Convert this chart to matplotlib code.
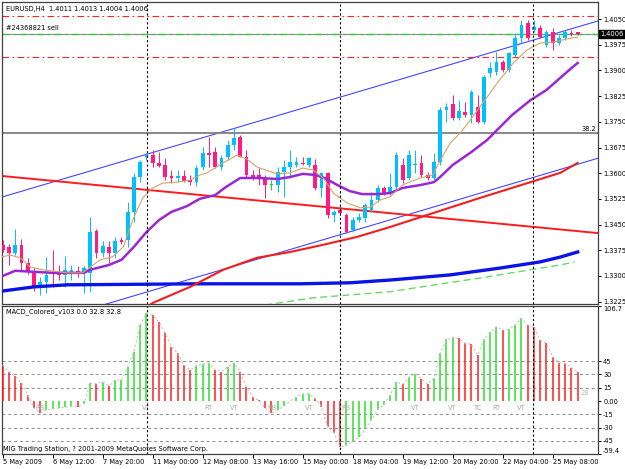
import numpy as np
import matplotlib
matplotlib.use("Agg")
import matplotlib.pyplot as plt
import matplotlib.transforms as mtransforms

# ======== data ========
opens = [1.3391, 1.3385, 1.3367, 1.3391, 1.3338, 1.3312, 1.3268, 1.3283, 1.3312, 1.3312,
         1.3303, 1.3309, 1.3315, 1.3309, 1.3309, 1.3431, 1.3367, 1.3385, 1.3367, 1.3405,
         1.3405, 1.3487, 1.3589, 1.3647, 1.3653, 1.3630, 1.3624, 1.3592, 1.3586, 1.3592,
         1.3580, 1.3574, 1.3618, 1.3659, 1.3662, 1.3618, 1.3647, 1.3682, 1.3706, 1.3647,
         1.3595, 1.3595, 1.3586, 1.3566, 1.3566, 1.3604, 1.3618, 1.3624, 1.3630, 1.3624,
         1.3624, 1.3557, 1.3601, 1.3478, 1.3493, 1.3478, 1.3434, 1.3463, 1.3469, 1.3493,
         1.3522, 1.3557, 1.3542, 1.3560, 1.3624, 1.3586, 1.3624, 1.3630, 1.3595, 1.3586,
         1.3633, 1.3784, 1.3802, 1.3761, 1.3779, 1.3770, 1.3793, 1.3749, 1.3892, 1.3895,
         1.3925, 1.3901, 1.3945, 1.3994, 1.4038, 1.4018, 1.4024, 1.3974, 1.4012, 1.3980,
         1.3994, 1.4009, 1.4011]
highs = [1.3405, 1.3393, 1.3437, 1.3408, 1.3353, 1.3323, 1.3297, 1.3355, 1.3376, 1.3332,
         1.3358, 1.3332, 1.3329, 1.3329, 1.3472, 1.3437, 1.3402, 1.3402, 1.3414, 1.3414,
         1.3516, 1.3601, 1.3639, 1.3659, 1.3668, 1.3662, 1.3644, 1.3609, 1.3609, 1.3609,
         1.3595, 1.3624, 1.3676, 1.3706, 1.3676, 1.3653, 1.3697, 1.3732, 1.3711, 1.3668,
         1.3609, 1.3615, 1.3595, 1.3580, 1.3618, 1.3639, 1.3668, 1.3647, 1.3647, 1.3647,
         1.3641, 1.3604, 1.3604, 1.3493, 1.3507, 1.3484, 1.3472, 1.3484, 1.3513, 1.3545,
         1.3566, 1.3563, 1.3601, 1.3662, 1.3644, 1.3668, 1.3668, 1.3653, 1.3604, 1.3659,
         1.3793, 1.3805, 1.3828, 1.3814, 1.3808, 1.3843, 1.3828, 1.3887, 1.3925, 1.3954,
         1.3930, 1.3954, 1.4009, 1.4047, 1.4047, 1.4047, 1.4033, 1.4018, 1.4024, 1.4003,
         1.4018, 1.4018, 1.4013]
lows = [1.3370, 1.3332, 1.3361, 1.3318, 1.3306, 1.3256, 1.3245, 1.3251, 1.3268, 1.3288,
        1.3268, 1.3288, 1.3297, 1.3251, 1.3254, 1.3353, 1.3355, 1.3338, 1.3353, 1.3393,
        1.3385, 1.3458, 1.3574, 1.3639, 1.3618, 1.3618, 1.3580, 1.3571, 1.3574, 1.3574,
        1.3566, 1.3563, 1.3609, 1.3618, 1.3615, 1.3609, 1.3639, 1.3668, 1.3647, 1.3589,
        1.3580, 1.3566, 1.3528, 1.3551, 1.3545, 1.3531, 1.3586, 1.3618, 1.3624, 1.3618,
        1.3551, 1.3531, 1.3469, 1.3458, 1.3478, 1.3425, 1.3428, 1.3458, 1.3458, 1.3487,
        1.3516, 1.3536, 1.3536, 1.3551, 1.3571, 1.3580, 1.3601, 1.3589, 1.3580, 1.3580,
        1.3624, 1.3749, 1.3755, 1.3755, 1.3764, 1.3746, 1.3746, 1.3743, 1.3881, 1.3887,
        1.3895, 1.3895, 1.3939, 1.3980, 1.3989, 1.4012, 1.3994, 1.3968, 1.3960, 1.3974,
        1.3989, 1.4000, 1.4004]
closes = [1.3376, 1.3367, 1.3391, 1.3338, 1.3312, 1.3268, 1.3283, 1.3303, 1.3306, 1.3303,
          1.3318, 1.3318, 1.3306, 1.3323, 1.3428, 1.3367, 1.3388, 1.3367, 1.3402, 1.3399,
          1.3487, 1.3589, 1.3633, 1.3653, 1.3630, 1.3621, 1.3589, 1.3586, 1.3592, 1.3577,
          1.3574, 1.3615, 1.3659, 1.3653, 1.3618, 1.3644, 1.3682, 1.3703, 1.3647, 1.3595,
          1.3589, 1.3589, 1.3566, 1.3566, 1.3604, 1.3618, 1.3633, 1.3633, 1.3627, 1.3644,
          1.3557, 1.3601, 1.3478, 1.3487, 1.3484, 1.3428, 1.3463, 1.3472, 1.3507, 1.3522,
          1.3557, 1.3542, 1.3560, 1.3653, 1.3580, 1.3653, 1.3627, 1.3595, 1.3586, 1.3633,
          1.3784, 1.3793, 1.3761, 1.3782, 1.3770, 1.3837, 1.3749, 1.3881, 1.3907, 1.3925,
          1.3901, 1.3951, 1.3994, 1.4033, 1.3994, 1.4027, 1.3997, 1.4012, 1.3980, 1.3994,
          1.4012, 1.4006, 1.4006]

# moving averages, read at a few bars each
ma_tan_x = [0, 1.2, 2.8, 4.4, 6.4, 10.3, 12.8, 14, 15.6, 17.6, 19.3, 20.8, 22.4, 24, 25.6,
            27.9, 30, 31.6, 32.7, 35.25, 37.5, 39.1, 40.7, 43.9, 46, 48, 49.7, 51.3, 52.9,
            55.1, 57.2, 58.8, 60.4, 62, 64, 66.8, 68.8, 70.3, 71.6, 73.2, 74.8, 77.5, 79.1,
            81.7, 83.9, 86, 88, 90.8, 92]
ma_tan_y = [1.3356, 1.3361, 1.3353, 1.3326, 1.3318, 1.3309, 1.3309, 1.3326, 1.3347, 1.3356,
            1.3385, 1.3463, 1.3528, 1.3557, 1.3571, 1.3574, 1.3580, 1.3595, 1.3601, 1.3630,
            1.3653, 1.3641, 1.3618, 1.3598, 1.3601, 1.3615, 1.3609, 1.3586, 1.3542, 1.3513,
            1.3499, 1.3501, 1.3522, 1.3531, 1.3566, 1.3586, 1.3595, 1.3647, 1.3688, 1.3717,
            1.3755, 1.3822, 1.3863, 1.3922, 1.3960, 1.3980, 1.3983, 1.3994, 1.3997]

ma_purple_x = [0, 2, 5, 8, 13, 14, 17, 19, 21, 23, 25, 27, 29.5, 31.5, 34, 35.5, 38, 41, 44,
               46, 48, 50, 51.5, 53.5, 55.5, 57.5, 60, 62, 64, 67, 69, 70, 72, 75, 77.5, 81.5,
               84.5, 87, 89, 91, 92]
ma_purple_y = [1.3300, 1.3315, 1.3312, 1.3309, 1.3309, 1.3318, 1.3332, 1.3347, 1.3385, 1.3428,
               1.3463, 1.3487, 1.3504, 1.3525, 1.3536, 1.3557, 1.3586, 1.3586, 1.3583, 1.3589,
               1.3598, 1.3595, 1.3586, 1.3566, 1.3548, 1.3539, 1.3539, 1.3542, 1.3557, 1.3566,
               1.3574, 1.3589, 1.3624, 1.3662, 1.3697, 1.3770, 1.3814, 1.3843, 1.3875, 1.3907,
               1.3922]

ma_red_x = [22.5, 24, 30, 35.3, 40.7, 46, 51.3, 56.7, 62, 76.4, 89.2, 92]
ma_red_y = [1.3201, 1.3221, 1.3268, 1.3318, 1.3353, 1.3370, 1.3391, 1.3414, 1.3443, 1.3528,
            1.3601, 1.3630]

ma_blue_x = [0, 5, 10.3, 31.6, 47.6, 55.6, 62, 71.6, 79.6, 86, 89.2, 92]
ma_blue_y = [1.3256, 1.3268, 1.3274, 1.3277, 1.3277, 1.3280, 1.3288, 1.3303, 1.3323, 1.3341,
             1.3355, 1.3370]

ma_green_x = [42, 49.7, 62, 76.4, 89.2, 91.5]
ma_green_y = [1.3215, 1.3236, 1.3254, 1.3294, 1.3332, 1.3341]

# trend lines: (bar, price) endpoints
chan_upper = [(0, 1.3531), (95.3, 1.4045)]
chan_lower = [(14, 1.3204), (95.3, 1.3644)]
red_trend = [(-0.2, 1.3592), (95.3, 1.3425)]

red_levels = [1.4059, 1.3939]
order_price = 1.4008
bid_price = 1.4006
fib_price = 1.3716
week_seps = [23.1, 54.0, 84.85]

macd = [40.6, 33, 28, 20.6, 6.8, -8, -13.7, -10, -9, -8,
        -7, -6, -6.5, -3, 20, 19.5, 21.8, 17, 23.7, 24,
        38.7, 55.6, 85.7, 99, 97, 89, 76.7, 61, 54, 40.6,
        35, 40, 41.6, 43, 35, 33, 38.7, 43, 33, 16,
        4.9, 1, -8, -13.7, -10, -6, 0, 4.9, 7.9, 8.3,
        3, -6.4, -29, -36, -52, -50, -46, -41, -32, -21,
        -10, -4, 6.8, 21, 19, 26.7, 31, 24.8, 19, 25.5,
        53.7, 69.5, 71.8, 70.6, 65, 63.9, 51.8, 69.5, 77.4, 83.8,
        80, 81, 85.7, 93.2, 85.7, 83.8, 68.8, 65, 50, 43,
        42.6, 37.6, 32.8]
macd_levels = [45, 30, 15, -15, -30, -45]
macd_marks_x = [6, 23, 33, 37, 43, 49, 55, 66, 72, 76, 79, 83]
macd_marks_t = ["RB", "VT", "RT", "VT", "RB", "VT", "RB", "VT", "VT", "TC", "RT", "VT"]

price_ticks = [1.4050, 1.3975, 1.3900, 1.3825, 1.3750, 1.3675, 1.3600, 1.3525, 1.3450,
               1.3375, 1.3300, 1.3225]
macd_ticks = [106.7, 45, 30, 15, 0, -15, -30, -45, -59.4]
macd_tick_labels = ["106.7", "45", "30", "15", "0.00", "-15", "-30", "-45", "-59.4"]
date_idx = [0, 8, 16, 24, 32, 40, 48, 56, 64, 72, 80, 88]
date_labels = ["5 May 2009", "6 May 12:00", "7 May 20:00", "11 May 00:00", "12 May 08:00",
               "13 May 16:00", "15 May 00:00", "18 May 04:00", "19 May 12:00",
               "20 May 20:00", "22 May 04:00", "25 May 08:00"]
# =========================

FS = 4.75
plt.rcParams["font.family"] = ["DejaVu Sans"]
fig = plt.figure(figsize=(6.25, 4.69), dpi=100)
W, H = 625, 469
ax = fig.add_axes([2 / W, 1 - 304 / H, 596 / W, 302 / H])
ax2 = fig.add_axes([2 / W, 1 - 453.7 / H, 596 / W, 147.3 / H], sharex=ax)

bars = np.arange(len(opens))
o = np.array(opens)
c = np.array(closes)
bull_col, bear_col = "#00bfff", "#ff1a84"
cols = [("#22cc22" if cc == oo else (bull_col if cc > oo else bear_col)) for oo, cc in zip(o, c)]

# trend / level lines under candles
for (x0, y0), (x1, y1), col, lw in [(chan_upper[0], chan_upper[1], "#4646ff", 0.8),
                                    (chan_lower[0], chan_lower[1], "#4646ff", 0.8),
                                    (red_trend[0], red_trend[1], "#ff1c1c", 1.4)]:
    ax.plot([x0, x1], [y0, y1], color=col, lw=lw, zorder=2)
for lv in red_levels:
    ax.axhline(lv, color="#ff2020", lw=0.8, ls=(0, (6, 3, 1.5, 3)), zorder=2)
ax.axhline(bid_price, color="#8c8c8c", lw=0.8, zorder=2)
ax.axhline(order_price, color="#2ecc2e", lw=1.0, ls=(0, (5, 3, 1.5, 3)), zorder=2)
ax.axhline(fib_price, color="#808080", lw=1.3, zorder=2)

# candles
ax.vlines(bars, lows, highs, colors=cols, lw=0.7, zorder=3)
ax.bar(bars, np.maximum(np.abs(c - o), 0.00012), bottom=np.minimum(o, c), width=0.6,
       color=cols, linewidth=0, zorder=4)

# moving averages
ax.plot(ma_green_x, ma_green_y, color="#66d866", lw=1.0, ls=(0, (5, 3)), zorder=5)
ax.plot(ma_blue_x, ma_blue_y, color="#0a14e6", lw=2.4, zorder=5)
ax.plot(ma_red_x, ma_red_y, color="#f21e1e", lw=1.5, zorder=5)
ax.plot(ma_purple_x, ma_purple_y, color="#9a28d2", lw=1.8, zorder=5)
ax.plot(ma_tan_x, ma_tan_y, color="#d4a468", lw=0.8, zorder=5)

for a in (ax, ax2):
    for xs in week_seps:
        a.axvline(xs, color="black", lw=0.8, ls=(0, (2, 2)), zorder=6)

ax.set_xlim(-0.11, 95.25)
ax.set_ylim(1.3218, 1.4100)
ax.yaxis.tick_right()
ax.set_yticks(price_ticks)
ax.set_yticklabels([f"{p:.4f}" for p in price_ticks])
ax.tick_params(axis="y", length=2.5, width=0.7, pad=1.2, labelsize=FS)
ax.tick_params(axis="x", length=0, labelbottom=False)

trans = mtransforms.blended_transform_factory(ax.transAxes, ax.transData)
ax.text(0.006, 0.988, "EURUSD,H4  1.4011 1.4013 1.4004 1.4006", transform=ax.transAxes,
        fontsize=FS, va="top", ha="left")
ax.text(0.006, order_price + 0.0006, "#24368821 sell", transform=trans, fontsize=FS,
        va="bottom", ha="left")
ax.text(0.997, fib_price + 0.0004, "38.2", transform=trans, fontsize=FS, va="bottom",
        ha="right")
ax.text(1.004, bid_price, "1.4006", transform=trans, fontsize=FS, va="center", ha="left",
        color="white", bbox=dict(boxstyle="square,pad=0.15", fc="black", ec="black"),
        zorder=10, clip_on=False)

# MACD panel
mcols = ["#ff2020"] + [("#2ee02e" if macd[k] > macd[k - 1] else "#ff2020")
                       for k in range(1, len(macd))]
for lv in macd_levels:
    ax2.axhline(lv, color="#8c8c8c", lw=0.7, ls=(0, (3, 3)), zorder=1)
ax2.vlines(bars, 0, macd, colors=mcols, lw=1.1, zorder=3)
ax2.plot(bars, macd, color="#c4c4c4", lw=0.8, ls=(0, (2, 2)), zorder=4)
for xm, tm in zip(macd_marks_x, macd_marks_t):
    ax2.text(xm, -7.5, tm, fontsize=FS, color="#a8a8a8", ha="center", va="center", zorder=5)
ax2.text(93.2, 9, "28", fontsize=FS, color="#b8b8b8", ha="center", va="center", zorder=5)

ax2.set_ylim(-59.4, 106.7)
ax2.yaxis.tick_right()
ax2.set_yticks(macd_ticks)
ax2.set_yticklabels(macd_tick_labels)
ax2.tick_params(axis="y", length=2.5, width=0.7, pad=1.2, labelsize=FS)
ylabs = ax2.get_yticklabels()
ylabs[0].set_va("top")
ylabs[-1].set_va("bottom")
ax2.set_xticks(date_idx)
ax2.set_xticklabels(date_labels)
ax2.tick_params(axis="x", length=3, width=0.7, pad=1.0, labelsize=FS)
for lab in ax2.get_xticklabels():
    lab.set_ha("left")
ax2.text(0.002, 0.012, "MIG Trading Station, ? 2001-2009 MetaQuotes Software Corp.",
         transform=ax2.transAxes, fontsize=FS, va="bottom", ha="left", zorder=7)
ax2.text(0.006, 0.985, "MACD_Colored_v103 0.0 32.8 32.8", transform=ax2.transAxes,
         fontsize=FS, va="top", ha="left", zorder=7)

for a in (ax, ax2):
    for sp in a.spines.values():
        sp.set_linewidth(0.9)
        sp.set_color("#404040")

fig.savefig("out.png", dpi=100)
